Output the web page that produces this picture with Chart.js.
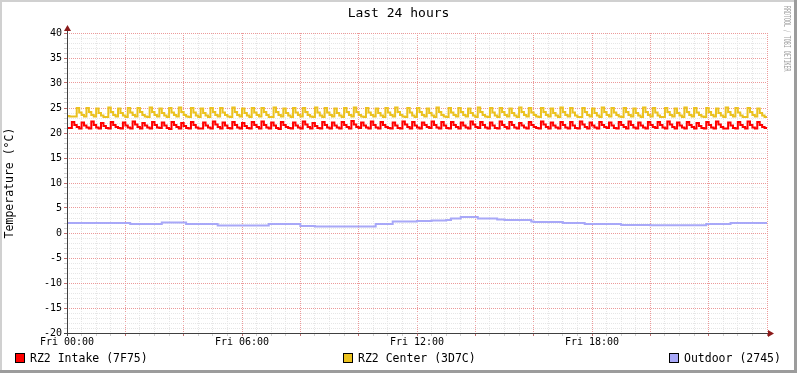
<!DOCTYPE html>
<html>
<head>
<meta charset="utf-8">
<title>Last 24 hours</title>
<script src="https://cdn.jsdelivr.net/npm/chart.js@4.4.1/dist/chart.umd.min.js"></script>
<style>
  html, body { margin: 0; padding: 0; background: #fff; }
  canvas { display: block; }
</style>
</head>
<body>
<canvas id="tempChart" width="797" height="373"></canvas>
<script>
// --- data (5 minute samples, Fri 00:00 .. Sat 00:00) ---
const sampleMinutes = [];
for (let m = 0; m <= 1440; m += 5) sampleMinutes.push(m);

const xTickLabels = ['Fri 00:00', 'Fri 06:00', 'Fri 12:00', 'Fri 18:00'];
const seriesNames = ['RZ2 Intake (7F75)', 'RZ2 Center (3D7C)', 'Outdoor (2745)'];

const intake = [
  21.0, 21.0, 22.2, 21.6, 21.2, 20.9, 22.1, 21.5, 21.1, 20.9, 22.3, 21.6,
  21.1, 20.9, 22.0, 21.4, 21.0, 20.9, 22.2, 21.6, 21.2, 21.0, 20.9, 22.1,
  21.5, 21.1, 20.9, 22.3, 21.7, 21.2, 20.9, 22.0, 21.5, 21.1, 20.9, 22.2,
  21.6, 21.1, 21.0, 22.1, 21.5, 21.0, 20.8, 22.2, 21.6, 21.2, 20.9, 22.0,
  21.4, 21.0, 20.9, 22.2, 21.6, 21.1, 20.9, 20.9, 22.1, 21.5, 21.1, 20.9,
  22.3, 21.7, 21.2, 20.9, 22.1, 21.5, 21.0, 20.9, 22.2, 21.6, 21.1, 20.9,
  22.0, 21.4, 21.0, 20.9, 22.2, 21.6, 21.2, 20.9, 22.3, 21.6, 21.1, 20.9,
  22.1, 21.5, 21.0, 20.8, 22.2, 21.6, 21.2, 21.0, 20.9, 22.1, 21.5, 21.1,
  20.9, 22.3, 21.7, 21.2, 20.9, 22.0, 21.4, 21.0, 20.9, 22.2, 21.6, 21.1,
  20.9, 22.1, 21.5, 21.1, 20.9, 22.2, 21.6, 21.2, 20.9, 22.4, 21.7, 21.2,
  21.0, 22.1, 21.5, 21.1, 20.9, 22.3, 21.6, 21.1, 20.9, 22.2, 21.6, 21.2,
  21.0, 20.9, 22.1, 21.5, 21.0, 20.9, 22.3, 21.7, 21.2, 20.9, 22.2, 21.5,
  21.1, 20.9, 22.1, 21.6, 21.2, 21.0, 22.3, 21.6, 21.1, 20.9, 22.2, 21.5,
  21.0, 20.9, 22.2, 21.6, 21.2, 20.9, 22.1, 21.5, 21.1, 20.9, 22.3, 21.7,
  21.2, 21.0, 22.2, 21.6, 21.1, 20.9, 22.1, 21.5, 21.0, 20.9, 22.3, 21.6,
  21.2, 20.9, 22.2, 21.6, 21.1, 20.9, 22.0, 21.5, 21.1, 20.9, 22.2, 21.6,
  21.2, 21.0, 20.9, 22.3, 21.7, 21.2, 20.9, 22.1, 21.5, 21.1, 20.9, 22.2,
  21.6, 21.1, 20.9, 22.2, 21.5, 21.0, 20.9, 22.3, 21.7, 21.2, 20.9, 22.1,
  21.5, 21.1, 20.9, 22.2, 21.6, 21.2, 21.0, 22.1, 21.5, 21.0, 20.9, 22.2,
  21.6, 21.2, 20.9, 22.3, 21.6, 21.1, 20.9, 22.1, 21.5, 21.1, 20.9, 22.2,
  21.6, 21.2, 21.0, 22.2, 21.6, 21.1, 20.9, 22.3, 21.7, 21.2, 20.9, 22.1,
  21.5, 21.1, 20.9, 22.2, 21.6, 21.2, 20.9, 22.0, 21.4, 21.0, 20.9, 22.2,
  21.6, 21.1, 20.9, 22.3, 21.7, 21.2, 20.9, 20.9, 22.1, 21.5, 21.0, 20.9,
  22.2, 21.6, 21.2, 20.9, 22.3, 21.6, 21.1, 20.9, 22.2, 21.6, 21.2, 21.0,
  21.0
];

const center = [
  23.4, 23.3, 23.3, 23.3, 25.0, 24.1, 23.6, 23.3, 25.0, 24.2, 23.6, 23.3,
  24.9, 24.0, 23.5, 23.2, 23.2, 25.1, 24.2, 23.6, 23.3, 24.9, 24.0, 23.5,
  23.2, 25.0, 24.1, 23.6, 23.3, 25.0, 24.2, 23.6, 23.3, 23.2, 25.1, 24.2,
  23.6, 23.3, 24.9, 24.0, 23.5, 23.2, 25.0, 24.1, 23.6, 23.3, 25.1, 24.2,
  23.6, 23.3, 23.2, 25.0, 24.1, 23.5, 23.2, 24.9, 24.0, 23.5, 23.2, 25.0,
  24.2, 23.6, 23.3, 25.0, 24.1, 23.6, 23.3, 23.2, 25.1, 24.2, 23.6, 23.3,
  24.9, 24.0, 23.5, 23.2, 25.0, 24.1, 23.6, 23.3, 25.0, 24.2, 23.6, 23.2,
  23.2, 25.1, 24.2, 23.6, 23.3, 24.9, 24.0, 23.5, 23.2, 25.0, 24.1, 23.6,
  23.3, 25.0, 24.2, 23.6, 23.3, 23.2, 25.1, 24.1, 23.5, 23.2, 25.0, 24.1,
  23.6, 23.3, 24.9, 24.0, 23.5, 23.2, 25.0, 24.2, 23.6, 23.3, 25.1, 24.2,
  23.6, 23.3, 23.2, 25.0, 24.1, 23.6, 23.3, 24.9, 24.0, 23.5, 23.2, 25.0,
  24.1, 23.6, 23.3, 25.1, 24.2, 23.6, 23.3, 23.2, 25.0, 24.1, 23.5, 23.2,
  25.0, 24.2, 23.6, 23.3, 24.9, 24.0, 23.5, 23.2, 25.1, 24.2, 23.6, 23.3,
  23.2, 25.0, 24.1, 23.6, 23.3, 25.0, 24.2, 23.6, 23.3, 24.9, 24.0, 23.5,
  23.2, 25.1, 24.2, 23.6, 23.3, 23.2, 25.0, 24.1, 23.5, 23.2, 25.0, 24.2,
  23.6, 23.3, 24.9, 24.0, 23.5, 23.2, 25.1, 24.2, 23.6, 23.3, 25.0, 24.1,
  23.6, 23.3, 23.2, 25.0, 24.2, 23.6, 23.3, 24.9, 24.0, 23.5, 23.2, 25.1,
  24.2, 23.6, 23.3, 25.0, 24.1, 23.5, 23.2, 23.2, 25.0, 24.2, 23.6, 23.3,
  24.9, 24.0, 23.5, 23.2, 25.1, 24.2, 23.6, 23.3, 25.0, 24.1, 23.6, 23.3,
  23.2, 25.0, 24.2, 23.6, 23.3, 24.9, 24.0, 23.5, 23.2, 25.1, 24.2, 23.6,
  23.3, 25.0, 24.1, 23.5, 23.2, 23.2, 25.0, 24.2, 23.6, 23.3, 24.9, 24.0,
  23.5, 23.2, 25.1, 24.2, 23.6, 23.3, 25.0, 24.1, 23.6, 23.3, 23.2, 25.0,
  24.2, 23.6, 23.3, 24.9, 24.0, 23.5, 23.2, 25.1, 24.2, 23.6, 23.3, 25.0,
  24.1, 23.5, 23.2, 23.2, 25.0, 24.2, 23.6, 23.3, 24.9, 24.0, 23.5, 23.2,
  23.2
];

const outdoor = [
  2.0, 2.0, 2.0, 2.0, 2.0, 2.0, 2.0, 2.0, 2.0, 2.0, 2.0, 2.0,
  2.0, 2.0, 2.0, 2.0, 2.0, 2.0, 2.0, 2.0, 2.0, 2.0, 2.0, 2.0,
  2.0, 2.0, 1.8, 1.8, 1.8, 1.8, 1.8, 1.8, 1.8, 1.8, 1.8, 1.8,
  1.8, 1.8, 1.8, 2.1, 2.1, 2.1, 2.1, 2.1, 2.1, 2.1, 2.1, 2.1,
  2.1, 1.8, 1.8, 1.8, 1.8, 1.8, 1.8, 1.8, 1.8, 1.8, 1.8, 1.8,
  1.8, 1.8, 1.5, 1.5, 1.5, 1.5, 1.5, 1.5, 1.5, 1.5, 1.5, 1.5,
  1.5, 1.5, 1.5, 1.5, 1.5, 1.5, 1.5, 1.5, 1.5, 1.5, 1.5, 1.8,
  1.8, 1.8, 1.8, 1.8, 1.8, 1.8, 1.8, 1.8, 1.8, 1.8, 1.8, 1.8,
  1.4, 1.4, 1.4, 1.4, 1.4, 1.4, 1.3, 1.3, 1.3, 1.3, 1.3, 1.3,
  1.3, 1.3, 1.3, 1.3, 1.3, 1.3, 1.3, 1.3, 1.3, 1.3, 1.3, 1.3,
  1.3, 1.3, 1.3, 1.3, 1.3, 1.3, 1.3, 1.8, 1.8, 1.8, 1.8, 1.8,
  1.8, 1.8, 2.3, 2.3, 2.3, 2.3, 2.3, 2.3, 2.3, 2.3, 2.3, 2.3,
  2.4, 2.4, 2.4, 2.4, 2.4, 2.4, 2.5, 2.5, 2.5, 2.5, 2.5, 2.5,
  2.6, 2.6, 2.9, 2.9, 2.9, 2.9, 3.2, 3.2, 3.2, 3.2, 3.2, 3.2,
  3.2, 2.9, 2.9, 2.9, 2.9, 2.9, 2.9, 2.9, 2.9, 2.7, 2.7, 2.7,
  2.6, 2.6, 2.6, 2.6, 2.6, 2.6, 2.6, 2.6, 2.6, 2.6, 2.6, 2.3,
  2.2, 2.2, 2.2, 2.2, 2.2, 2.2, 2.2, 2.2, 2.2, 2.2, 2.2, 2.2,
  2.0, 2.0, 2.0, 2.0, 2.0, 2.0, 2.0, 2.0, 2.0, 1.8, 1.8, 1.8,
  1.8, 1.8, 1.8, 1.8, 1.8, 1.8, 1.8, 1.8, 1.8, 1.8, 1.8, 1.8,
  1.6, 1.6, 1.6, 1.6, 1.6, 1.6, 1.6, 1.6, 1.6, 1.6, 1.6, 1.6,
  1.55, 1.55, 1.55, 1.55, 1.55, 1.55, 1.55, 1.55, 1.55, 1.55, 1.55, 1.55,
  1.55, 1.55, 1.55, 1.55, 1.55, 1.55, 1.55, 1.55, 1.55, 1.55, 1.55, 1.8,
  1.8, 1.8, 1.8, 1.8, 1.8, 1.8, 1.8, 1.8, 1.8, 2.0, 2.0, 2.0,
  2.0, 2.0, 2.0, 2.0, 2.0, 2.0, 2.0, 2.0, 2.0, 2.0, 2.0, 2.0,
  2.0
];

const seriesColors = ['#FF0000', '#EBC21F', '#A8A8F8'];

const MONO = "'DejaVu Sans Mono', monospace";

// --- rrdtool look: frame, title, axes arrows, legend, watermark ---
const rrdLook = {
    id: 'rrdLook',
    beforeDraw(chart) {
        const c = chart.ctx;
        c.save();
        c.fillStyle = '#ffffff';
        c.fillRect(0, 0, chart.width, chart.height);
        c.restore();
    },
    afterDraw(chart) {
        const c = chart.ctx;
        const a = chart.chartArea;
        const W = chart.width, H = chart.height;
        c.save();

        // axes
        c.strokeStyle = '#404040';
        c.lineWidth = 1;
        c.beginPath();
        c.moveTo(a.left + 0.5, a.bottom + 3);
        c.lineTo(a.left + 0.5, a.top - 4);
        c.moveTo(a.left - 3, a.bottom + 0.5);
        c.lineTo(a.right + 4, a.bottom + 0.5);
        c.stroke();
        c.fillStyle = '#8B1A1A';
        c.beginPath();
        c.moveTo(a.left - 3, a.top - 2);
        c.lineTo(a.left + 4, a.top - 2);
        c.lineTo(a.left + 0.5, a.top - 8);
        c.closePath();
        c.fill();
        c.beginPath();
        c.moveTo(a.right + 1, a.bottom - 3);
        c.lineTo(a.right + 1, a.bottom + 4);
        c.lineTo(a.right + 7, a.bottom + 0.5);
        c.closePath();
        c.fill();

        // title
        c.fillStyle = '#000';
        c.font = '13px ' + MONO;
        c.textAlign = 'center';
        c.textBaseline = 'middle';
        c.fillText('Last 24 hours', W / 2, 14);

        // legend
        const legendX = [15, 343, 669];
        c.font = '11.5px ' + MONO;
        c.textAlign = 'left';
        chart.data.datasets.forEach((ds, i) => {
            const x = legendX[i];
            c.fillStyle = ds.borderColor;
            c.fillRect(x + 0.5, 353.5, 9, 9);
            c.strokeStyle = '#000';
            c.lineWidth = 1;
            c.strokeRect(x + 0.5, 353.5, 9, 9);
            c.fillStyle = '#000';
            c.fillText(ds.label, x + 15, 359);
        });

        // watermark
        c.save();
        c.translate(786, 6);
        c.rotate(Math.PI / 2);
        c.scale(0.55, 1);
        c.font = '9px ' + MONO;
        c.fillStyle = '#a0a0a0';
        c.textAlign = 'left';
        c.textBaseline = 'middle';
        c.fillText('RRDTOOL / TOBI OETIKER', 0, 0);
        c.restore();

        // 3d frame
        c.fillStyle = '#d0d0d0';
        c.fillRect(0, 0, W, 2);
        c.fillRect(0, 0, 2, H);
        c.fillStyle = '#9c9c9c';
        c.fillRect(0, H - 3, W, 3);
        c.fillRect(W - 3, 0, 3, H);

        c.restore();
    }
};

const majorGrid = '#EC9A9A';
const minorGrid = '#E6E6E6';

const ctx = document.getElementById('tempChart').getContext('2d');
new Chart(ctx, {
    type: 'line',
    data: {
        labels: sampleMinutes,
        datasets: [
            { label: seriesNames[0], data: intake, borderColor: seriesColors[0], backgroundColor: seriesColors[0] },
            { label: seriesNames[1], data: center, borderColor: seriesColors[1], backgroundColor: seriesColors[1] },
            { label: seriesNames[2], data: outdoor, borderColor: seriesColors[2], backgroundColor: seriesColors[2] }
        ]
    },
    options: {
        responsive: false,
        animation: false,
        devicePixelRatio: 1,
        elements: {
            point: { radius: 0 },
            line: { borderWidth: 2, stepped: true, tension: 0 }
        },
        layout: { padding: { top: 33, right: 30, bottom: 20, left: 0 } },
        plugins: {
            legend: { display: false },
            title: { display: false },
            tooltip: { enabled: false }
        },
        scales: {
            x: {
                type: 'linear',
                min: 0,
                max: 1440,
                afterFit: (scale) => { scale.height = 20; },
                ticks: {
                    stepSize: 30,
                    autoSkip: false,
                    maxRotation: 0,
                    padding: 0,
                    color: '#000',
                    font: { family: MONO, size: 10 },
                    callback: (v) => (v % 360 === 0 && v < 1440) ? xTickLabels[v / 360] : ''
                },
                grid: {
                    color: (c) => c.tick && c.tick.value % 120 === 0 ? majorGrid : minorGrid,
                    tickColor: (c) => c.tick && c.tick.value % 120 === 0 ? '#c07070' : '#d0d0d0',
                    tickLength: 3
                },
                border: { display: false, dash: [1, 1] }
            },
            y: {
                min: -20,
                max: 40,
                afterFit: (scale) => { scale.width = 67; },
                ticks: {
                    stepSize: 1,
                    autoSkip: false,
                    padding: 2,
                    color: '#000',
                    font: { family: MONO, size: 10 },
                    callback: (v) => v % 5 === 0 ? String(v) : ''
                },
                grid: {
                    color: (c) => c.tick && c.tick.value % 5 === 0 ? majorGrid : minorGrid,
                    tickColor: (c) => c.tick && c.tick.value % 5 === 0 ? '#c07070' : '#d0d0d0',
                    tickLength: 3
                },
                border: { display: false, dash: [1, 1] },
                title: {
                    display: true,
                    text: 'Temperature (°C)',
                    color: '#000',
                    font: { family: MONO, size: 11.5 },
                    padding: { top: 3, bottom: 0 }
                }
            }
        }
    },
    plugins: [rrdLook]
});
</script>
</body>
</html>
